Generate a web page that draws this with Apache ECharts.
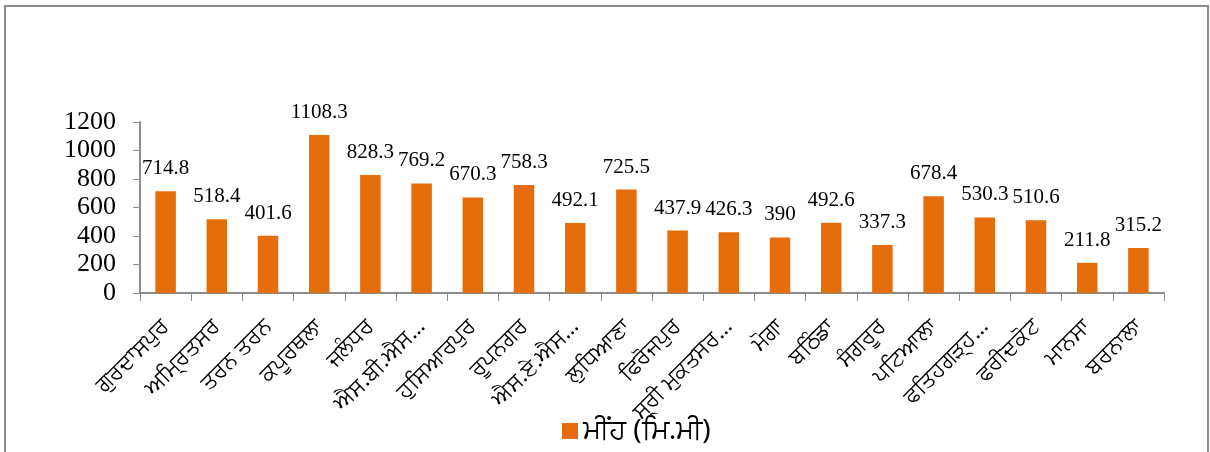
<!DOCTYPE html>
<html>
<head>
<meta charset="utf-8">
<script src="https://cdn.jsdelivr.net/npm/echarts@6/dist/echarts.min.js"></script>
<style>
  html, body { margin: 0; padding: 0; background: #fff; }
  #frame { position: absolute; left: 4px; top: 5px; width: 1201px; height: 460px; border: 2px solid #8c8c8c; }
  #chart { position: absolute; left: 0; top: 0; width: 1210px; height: 452px; }
</style>
</head>
<body>
<div id="frame"></div>
<div id="chart"></div>
<script>
// ਜ਼ਿਲ੍ਹੇ
const districts = [
  'ਗੁਰਦਾਸਪੁਰ', 'ਅਮ੍ਰਿਤਸਰ', 'ਤਰਨ ਤਰਨ', 'ਕਪੂਰਥਲਾ', 'ਜਲੰਧਰ',
  'ਐਸ.ਬੀ.ਐਸ…', 'ਹੁਸਿਆਰਪੁਰ', 'ਰੂਪਨਗਰ', 'ਐਸ.ਏ.ਐਸ…', 'ਲੁਧਿਆਣਾ',
  'ਫਿਰੋਜਪੁਰ', 'ਸ੍ਰੀ ਮੁਕਤਸਰ…', 'ਮੋਗਾ', 'ਬਠਿੰਡਾ', 'ਸੰਗਰੂਰ',
  'ਪਟਿਆਲਾ', 'ਫਤਿਹਗੜ੍ਹ…', 'ਫਰੀਦਕੋਟ', 'ਮਾਨਸਾ', 'ਬਰਨਾਲਾ'
]
// ਮੀਂਹ (ਮਿ.ਮੀ)
const rainfall = [
  714.8, 518.4, 401.6, 1108.3, 828.3,
  769.2, 670.3, 758.3, 492.1, 725.5,
  437.9, 426.3, 390, 492.6, 337.3,
  678.4, 530.3, 510.6, 211.8, 315.2
]
const seriesName = 'ਮੀਂਹ (ਮਿ.ਮੀ)'

const chart = echarts.init(document.getElementById('chart'))
chart.setOption({
  animation: false,
  color: ['#E46C0A'],
  legend: {
    bottom: 2,
    left: 557,
    itemWidth: 16,
    itemHeight: 16,
    itemGap: 4,
    icon: 'rect',
    textStyle: { fontSize: 28, color: '#000', fontFamily: 'Noto Sans, sans-serif' },
    data: [seriesName]
  },
  grid: { left: 140, right: 46, top: 122, bottom: 159 },
  xAxis: {
    type: 'category',
    data: districts,
    axisLine: { lineStyle: { color: '#8c8c8c', width: 2 } },
    axisTick: { show: true, length: 8, lineStyle: { color: '#8c8c8c', width: 1 } },
    axisLabel: {
      rotate: 45,
      interval: 0,
      margin: 30,
      fontSize: 22,
      color: '#000',
      fontFamily: 'Noto Sans, sans-serif'
    }
  },
  yAxis: {
    type: 'value',
    min: 0,
    max: 1200,
    interval: 200,
    splitLine: { show: false },
    axisLine: { show: true, lineStyle: { color: '#8c8c8c', width: 2 } },
    axisTick: { show: true, length: 7, lineStyle: { color: '#8c8c8c' } },
    axisLabel: {
      fontSize: 26,
      margin: 24,
      color: '#000',
      fontFamily: 'Liberation Serif, serif',
      formatter: v => String(v)
    }
  },
  series: [{
    name: seriesName,
    type: 'bar',
    data: rainfall,
    barWidth: '40%',
    label: {
      show: true,
      position: 'top',
      distance: 12,
      fontSize: 21,
      color: '#000',
      fontFamily: 'Liberation Serif, serif'
    }
  }]
})
</script>
</body>
</html>
